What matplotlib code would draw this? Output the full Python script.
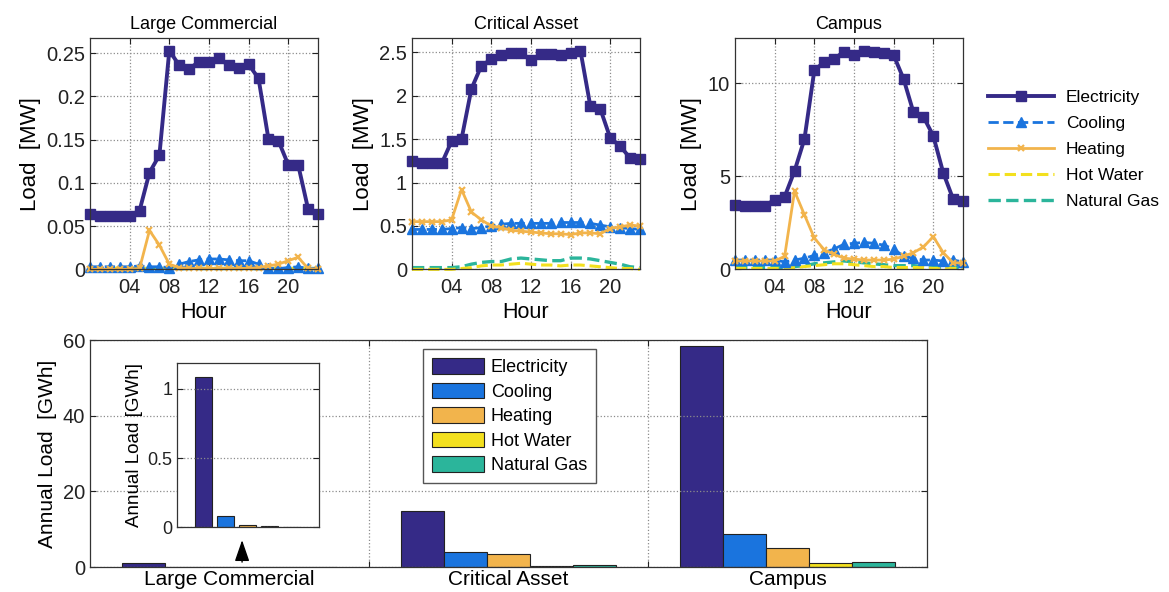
import numpy as np
from matplotlib import pyplot as plt
from matplotlib.ticker import FormatStrFormatter

plt.rcParams['font.family'] = ['Liberation Sans', 'DejaVu Sans']

# hourly profiles, MW
hours = np.arange(0, 24)

lc_elec = [0.064, 0.062, 0.062, 0.062, 0.062, 0.068, 0.112, 0.132, 0.253, 0.236, 0.232, 0.240,
           0.240, 0.244, 0.236, 0.233, 0.237, 0.221, 0.151, 0.149, 0.121, 0.121, 0.070, 0.064]
lc_cool = [0.003, 0.003, 0.003, 0.003, 0.003, 0.004, 0.003, 0.003, 0.002, 0.006, 0.009, 0.011,
           0.012, 0.012, 0.011, 0.010, 0.010, 0.006, 0.001, 0.001, 0.002, 0.003, 0.001, 0.001]
lc_heat = [0.0, 0.0, 0.0, 0.0, 0.0, 0.001, 0.045, 0.028, 0.006, 0.002, 0.001, 0.001,
           0.001, 0.001, 0.001, 0.001, 0.001, 0.002, 0.004, 0.006, 0.010, 0.014, 0.001, 0.0]
lc_hotw = [0.002] * 24
lc_gas = [0.001] * 24

ca_elec = [1.245, 1.22, 1.22, 1.22, 1.477, 1.50, 2.08, 2.345, 2.42, 2.47, 2.49, 2.49,
           2.41, 2.48, 2.48, 2.47, 2.49, 2.52, 1.88, 1.85, 1.516, 1.42, 1.285, 1.27]
ca_cool = [0.46, 0.46, 0.46, 0.46, 0.47, 0.48, 0.47, 0.48, 0.50, 0.52, 0.53, 0.53,
           0.53, 0.53, 0.53, 0.54, 0.54, 0.54, 0.53, 0.51, 0.49, 0.48, 0.47, 0.46]
ca_heat = [0.55, 0.55, 0.55, 0.55, 0.57, 0.92, 0.66, 0.57, 0.50, 0.48, 0.45, 0.44,
           0.43, 0.42, 0.41, 0.41, 0.40, 0.42, 0.42, 0.41, 0.47, 0.49, 0.51, 0.50]
ca_hotw = [0.0, 0.0, 0.0, 0.0, 0.0, 0.01, 0.02, 0.04, 0.05, 0.05, 0.06, 0.07,
           0.06, 0.05, 0.05, 0.04, 0.05, 0.05, 0.04, 0.03, 0.02, 0.01, 0.01, 0.0]
ca_gas = [0.02, 0.02, 0.02, 0.02, 0.02, 0.03, 0.06, 0.08, 0.09, 0.09, 0.12, 0.13,
          0.12, 0.11, 0.10, 0.10, 0.13, 0.13, 0.12, 0.10, 0.08, 0.06, 0.03, 0.02]

cp_elec = [3.48, 3.4, 3.4, 3.4, 3.75, 3.9, 5.28, 7.0, 10.7, 11.13, 11.3, 11.7,
           11.5, 11.75, 11.7, 11.6, 11.5, 10.23, 8.43, 8.2, 7.17, 5.19, 3.78, 3.65]
cp_cool = [0.5, 0.5, 0.5, 0.5, 0.5, 0.4, 0.5, 0.6, 0.75, 0.9, 1.1, 1.35,
           1.4, 1.45, 1.4, 1.3, 1.1, 0.7, 0.6, 0.5, 0.5, 0.45, 0.5, 0.4]
cp_heat = [0.45, 0.45, 0.45, 0.45, 0.45, 0.7, 4.2, 2.93, 1.68, 1.05, 0.8, 0.6,
           0.55, 0.5, 0.5, 0.5, 0.55, 0.7, 0.9, 1.2, 1.76, 0.9, 0.35, 0.35]
cp_hotw = [0.05, 0.05, 0.05, 0.05, 0.05, 0.05, 0.1, 0.15, 0.2, 0.25, 0.3, 0.3,
           0.25, 0.2, 0.15, 0.15, 0.1, 0.1, 0.1, 0.1, 0.05, 0.05, 0.05, 0.05]
cp_gas = [0.1, 0.1, 0.1, 0.1, 0.1, 0.1, 0.15, 0.2, 0.3, 0.35, 0.4, 0.45,
          0.4, 0.35, 0.3, 0.25, 0.2, 0.2, 0.2, 0.15, 0.15, 0.1, 0.1, 0.1]

# annual totals, GWh
categories = ['Large Commercial', 'Critical Asset', 'Campus']
elec_annual = [1.09, 14.9, 58.5]
cool_annual = [0.084, 4.0, 8.65]
heat_annual = [0.019, 3.4, 5.0]
hotw_annual = [0.012, 0.15, 1.0]
gas_annual = [0.0, 0.5, 1.25]

names = ['Electricity', 'Cooling', 'Heating', 'Hot Water', 'Natural Gas']
colors = ['#352a87', '#1a74de', '#f2b44c', '#f3e01e', '#2bb59b']

grid_kw = dict(color='#8c8c8c', linestyle=':', linewidth=0.9)


def style_axes(ax, size=14.5):
    ax.tick_params(direction='in', length=4, top=True, right=True, labelsize=size, colors='#222222')
    ax.tick_params(axis='x', pad=6)
    for sp in ax.spines.values():
        sp.set_color('#333333')
        sp.set_linewidth(0.9)


fig = plt.figure(figsize=(11.69, 5.92), dpi=100)

panels = [
    ('Large Commercial', [lc_elec, lc_cool, lc_heat, lc_hotw, lc_gas], 0.267, [0, 0.05, 0.1, 0.15, 0.2, 0.25], 0.077),
    ('Critical Asset', [ca_elec, ca_cool, ca_heat, ca_hotw, ca_gas], 2.66, [0, 0.5, 1, 1.5, 2, 2.5], 0.3524),
    ('Campus', [cp_elec, cp_cool, cp_heat, cp_hotw, cp_gas], 12.4, [0, 5, 10], 0.6288),
]

line_styles = [
    dict(linestyle='-', linewidth=2.8, marker='s', markersize=7),
    dict(linestyle='--', linewidth=2.0, marker='^', markersize=7),
    dict(linestyle='-', linewidth=2.0, marker='x', markersize=5, markeredgewidth=1.6),
    dict(linestyle='--', linewidth=2.2),
    dict(linestyle='--', linewidth=2.4),
]

handles = None
for title, series, ytop, yticks, left in panels:
    ax = fig.add_axes([left, 0.545, 0.195, 0.39])
    lines = []
    # draw small loads first so electricity sits on top
    for k in [4, 3, 1, 2, 0]:
        ln, = ax.plot(hours, series[k], color=colors[k], label=names[k], clip_on=False, **line_styles[k])
        lines.append((k, ln))
    lines.sort()
    handles = [ln for k, ln in lines]
    ax.set_xlim(0, 23)
    ax.set_ylim(0, ytop)
    ax.set_xticks([4, 8, 12, 16, 20])
    ax.set_xticklabels(['04', '08', '12', '16', '20'])
    ax.set_yticks(yticks)
    ax.yaxis.set_major_formatter(FormatStrFormatter('%g'))
    ax.grid(True, **grid_kw)
    style_axes(ax)
    ax.set_title(title, fontsize=13, pad=7)
    ax.set_xlabel('Hour', fontsize=15.5, labelpad=4)
    ax.set_ylabel('Load  [MW]', fontsize=16, labelpad=4)

fig.legend(handles, names, loc='upper left', bbox_to_anchor=(0.845, 0.848), frameon=False,
           fontsize=12.5, handlelength=3.8, labelspacing=0.62, handletextpad=0.7,
           borderpad=0, borderaxespad=0)

# bottom: annual totals
axb = fig.add_axes([0.077, 0.0422, 0.716, 0.3834])
x = np.arange(1, len(categories) + 1)
annual = [elec_annual, cool_annual, heat_annual, hotw_annual, gas_annual]
n = len(annual)
group_w = min(0.8, n / (n + 1.5))
bw = group_w / n
for k in range(n):
    axb.bar(x + (k - (n - 1) / 2) * bw, annual[k], bw, color=colors[k], edgecolor='#222222',
            linewidth=0.8, label=names[k])
axb.set_xlim(0.5, 3.5)
axb.set_ylim(0, 60)
axb.set_yticks([0, 20, 40, 60])
axb.set_xticks([1.5, 2.5])
axb.set_xticklabels([])
axb.set_xticks(x, minor=True)
axb.set_xticklabels(categories, minor=True, fontsize=15)
axb.grid(True, **grid_kw)
style_axes(axb)
axb.tick_params(axis='x', which='minor', length=0, pad=2)
axb.set_ylabel('Annual Load  [GWh]', fontsize=15, labelpad=4)

axb.legend(loc='upper left', bbox_to_anchor=(423 / 1169, 1 - 349 / 592), bbox_transform=fig.transFigure,
           fontsize=13, handlelength=2.9, handleheight=0.95, labelspacing=0.36, handletextpad=0.35,
           borderpad=0.5, borderaxespad=0, fancybox=False, edgecolor='#555555', framealpha=1)

# arrow pointing from the tiny bars up to the inset
axb.annotate('', xy=(1.045, 7.1), xytext=(1.045, 1.3),
             arrowprops=dict(arrowstyle='-|>,head_length=1.3,head_width=0.45', color='k', lw=1.0,
                             shrinkA=0, shrinkB=0))

# inset zoom on Large Commercial
axi = fig.add_axes([0.1514, 0.1093, 0.1215, 0.278])
xi = np.arange(1, n + 1)
lc_annual = [a[0] for a in annual]
axi.bar(xi, lc_annual, 0.8, color=colors, edgecolor='#222222', linewidth=0.8)
axi.set_xlim(-0.2, 6.25)
axi.set_ylim(0, 1.19)
axi.set_yticks([0, 0.5, 1])
axi.yaxis.set_major_formatter(FormatStrFormatter('%g'))
axi.set_xticks([])
axi.yaxis.grid(True, **grid_kw)
style_axes(axi, size=13)
axi.set_ylabel('Annual Load [GWh]', fontsize=13.5, labelpad=3)

fig.savefig('out.png', dpi=100)
